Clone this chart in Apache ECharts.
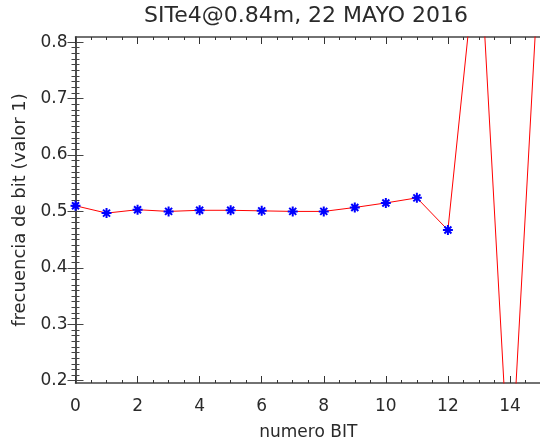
<!DOCTYPE html>
<html>
<head>
<meta charset="utf-8">
<script src="https://cdn.jsdelivr.net/npm/echarts@6/dist/echarts.min.js"></script>
<style>
  html, body { margin: 0; padding: 0; background: #fff; }
  #main { width: 540px; height: 441px; }
</style>
</head>
<body>
<div id="main"></div>
<script>
// bit index and frequency of value 1
const bits = [0, 1, 2, 3, 4, 5, 6, 7, 8, 9, 10, 11, 12, 13, 14, 15];
const freq = [0.510, 0.497, 0.503, 0.500, 0.502, 0.502, 0.501, 0.500, 0.500, 0.507, 0.515, 0.524, 0.467, 1.0, 0.0, 1.0];

const xMajor = [0, 2, 4, 6, 8, 10, 12, 14];
const yMajor = [0.2, 0.3, 0.4, 0.5, 0.6, 0.7, 0.8];

const X_MIN = 0, X_MAX = 15;
const Y_MIN = 0.196, Y_MAX = 0.809;

// minor tick positions
const xMinor = [];
for (let v = 0; v <= 15; v += 0.5) xMinor.push(v);
const yMinor = [];
for (let i = 20; i <= 80; i++) yMinor.push(i / 100);

const font = 'DejaVu Sans';
const axisColor = '#444';

function xAx(pos, ticks, len, labels, withLine) {
  return {
    type: 'value', position: pos, min: X_MIN, max: X_MAX,
    axisLine: { show: withLine, lineStyle: { color: axisColor, width: 1.5 } },
    axisTick: { show: true, inside: true, length: len, customValues: ticks, lineStyle: { color: '#333' } },
    axisLabel: labels ? { customValues: xMajor, color: '#2a2a2a', fontFamily: font, fontSize: 17, margin: 15 } : { show: false },
    splitLine: { show: false }
  };
}
function yAx(pos, ticks, len, labels, withLine) {
  return {
    type: 'value', position: pos, min: Y_MIN, max: Y_MAX,
    axisLine: { show: withLine, lineStyle: { color: axisColor, width: 1.5 } },
    axisTick: { show: true, inside: true, length: len, customValues: ticks, lineStyle: { color: '#444' } },
    axisLabel: labels ? { customValues: yMajor, color: '#2a2a2a', fontFamily: font, fontSize: 17, margin: 8,
      formatter: v => v.toFixed(1) } : { show: false },
    splitLine: { show: false }
  };
}

const xMain = xAx('bottom', xMajor, 7, true, true);
xMain.name = 'numero BIT';
xMain.nameLocation = 'middle';
xMain.nameGap = 41;
xMain.nameTextStyle = { color: '#2a2a2a', fontFamily: font, fontSize: 17 };

const yMain = yAx('left', yMajor, 8, true, true);
yMain.name = 'frecuencia de bit (valor 1)';
yMain.nameLocation = 'middle';
yMain.nameGap = 46;
yMain.nameTextStyle = { color: '#2a2a2a', fontFamily: font, fontSize: 18 };

const chart = echarts.init(document.getElementById('main'), null, { renderer: 'canvas' });
chart.setOption({
  backgroundColor: '#ffffff',
  animation: false,
  grid: { left: 75.5, right: -1, top: 37, bottom: 58, outerBoundsMode: 'none' },
  graphic: [{
    type: 'text', x: 306, y: 16,
    style: { text: 'SITe4@0.84m, 22 MAYO 2016', fill: '#2a2a2a', font: '22px "DejaVu Sans"',
      textAlign: 'center', textVerticalAlign: 'middle' }
  }],
  xAxis: [
    xMain,
    xAx('bottom', xMinor, 3, false, false),
    xAx('top', xMajor, 7, false, true),
    xAx('top', xMinor, 3, false, false)
  ],
  yAxis: [
    yMain,
    yAx('left', yMinor, 4, false, false),
    yAx('right', yMajor, 8, false, true),
    yAx('right', yMinor, 4, false, false)
  ],
  series: [{
    type: 'line',
    xAxisIndex: 0, yAxisIndex: 0,
    data: bits.map((b, i) => [b, freq[i]]),
    clip: true,
    lineStyle: { color: '#ff0000', width: 1 },
    symbol: 'path://M5,0L5,10M0,5L10,5M1.5,1.5L8.5,8.5M1.5,8.5L8.5,1.5',
    symbolSize: 10,
    showAllSymbol: true,
    itemStyle: { color: '#0000ff', borderColor: '#0000ff', borderWidth: 2 }
  }]
});
</script>
</body>
</html>
